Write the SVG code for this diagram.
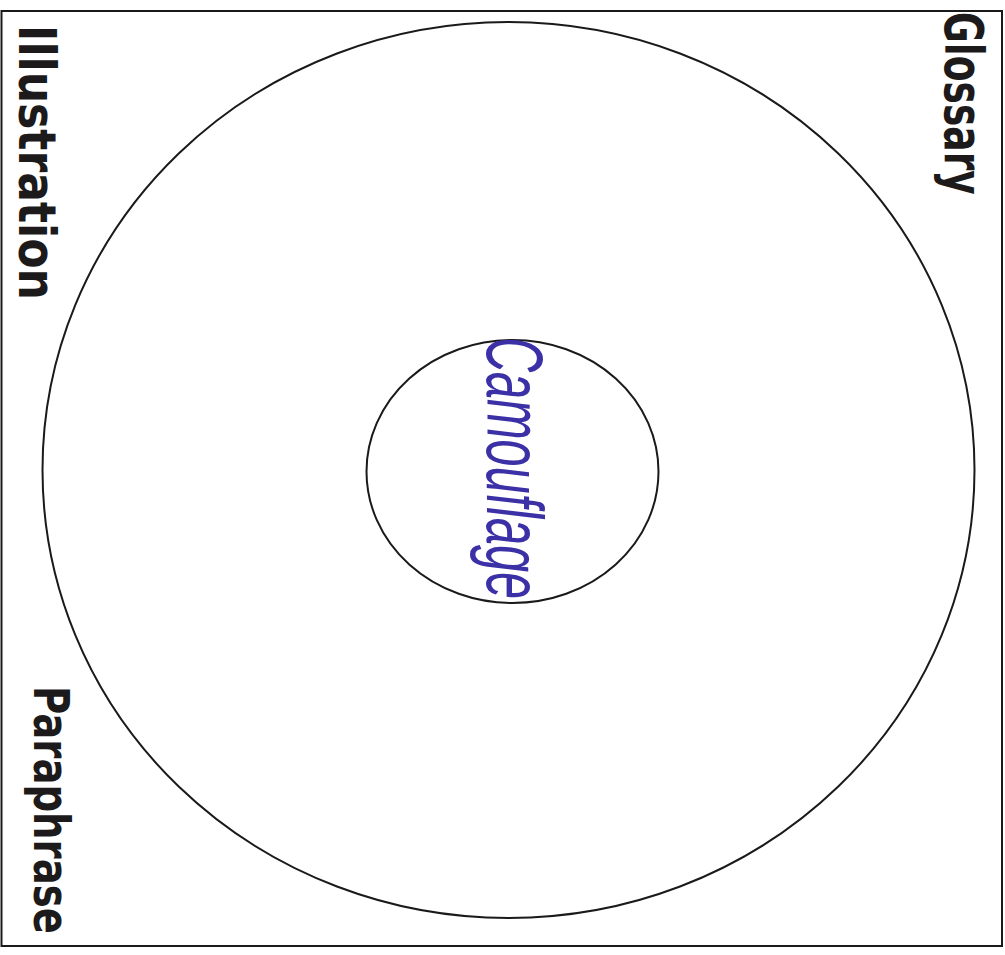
<svg xmlns="http://www.w3.org/2000/svg" width="1005" height="955" viewBox="0 0 1005 955">
<style>
.line{fill:none;stroke:#1a1a1a;stroke-width:2}
.label{font-family:"DejaVu Sans","Liberation Sans",sans-serif;font-weight:bold;fill:#1c1a1a}
.hand{font-family:"Liberation Sans","DejaVu Sans",sans-serif;font-style:italic;fill:#3b30a6}
</style>
<rect width="1005" height="955" fill="#ffffff"/>
<g id="frame"><rect class="line" x="1.5" y="11" width="1000.5" height="935"/></g>
<g id="outer-circle"><ellipse class="line" cx="508.5" cy="470" rx="466" ry="448"/></g>
<g id="inner-circle"><ellipse class="line" cx="512.5" cy="471.5" rx="146" ry="131.5"/></g>
<g id="label-illustration"><text class="label" x="0" y="0" font-size="52" textLength="319" lengthAdjust="spacingAndGlyphs" transform="translate(19 25) rotate(90) scale(0.862 1)">Illustration</text></g>
<g id="label-glossary"><text class="label" x="0" y="0" font-size="54" textLength="261" lengthAdjust="spacingAndGlyphs" transform="translate(945 12) rotate(90) scale(0.70 1)">Glossary</text></g>
<g id="label-paraphrase"><text class="label" x="0" y="0" font-size="50" textLength="322" lengthAdjust="spacingAndGlyphs" transform="translate(34 686) rotate(90) scale(0.77 1)">Paraphrase</text></g>
<g id="label-camouflage"><text class="hand" x="0" y="0" font-size="80" textLength="431" lengthAdjust="spacingAndGlyphs" transform="translate(487 337) rotate(90) scale(0.608 1)">Camouflage</text></g>
<g id="connectors"></g>
</svg>
